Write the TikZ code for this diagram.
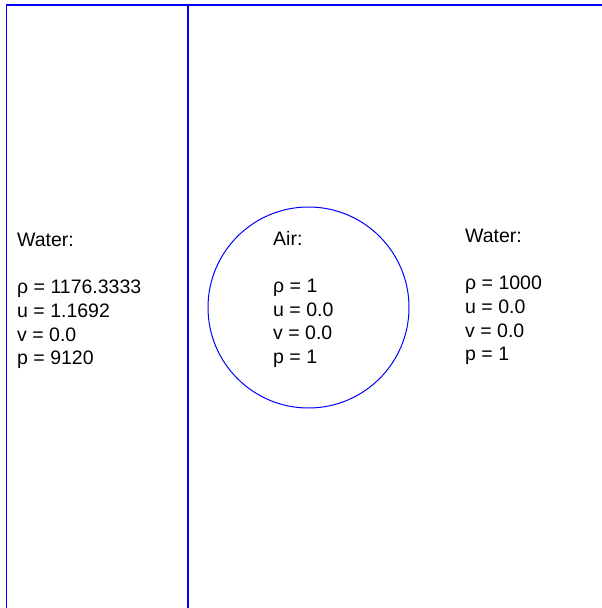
\documentclass[tikz,border=0pt]{standalone}
\usepackage{fontspec}
\setmainfont{Liberation Sans}
\usepackage{tikz}

\begin{document}
\begin{tikzpicture}[x=1pt, y=-1pt,
    wall/.style={blue, line width=1.3pt},
    state/.style={anchor=north west, inner sep=0pt, align=left,
        font=\fontsize{19.5}{23.6}\selectfont}]
    % 参数设置
    \def\W{602} % 图宽
    \def\H{608} % 图高
    \def\xs{188} % 激波位置
    \def\r{100.5} % 气泡半径

    \useasboundingbox (0,0) rectangle (\W,\H);

    % 边界与激波
    \draw[wall] (\W,5) -- (6.5,5) -- (6.5,\H);
    \draw[wall] (\xs,5) -- (\xs,\H);

    % 气泡
    \draw[blue, line width=1pt] (308.5,307.5) circle (\r);

    % 各区域初始状态
    \node[state] (shocked) at (17,233) {Water:\\[23.6pt]ρ = 1176.3333\\u = 1.1692\\v = 0.0\\p = 9120};
    \node[state] (bubble) at (273,231) {Air:\\[23.6pt]ρ = 1\\u = 0.0\\v = 0.0\\p = 1};
    \node[state] (ambient) at (465,229) {Water:\\[23.6pt]ρ = 1000\\u = 0.0\\v = 0.0\\p = 1};
\end{tikzpicture}
\end{document}
